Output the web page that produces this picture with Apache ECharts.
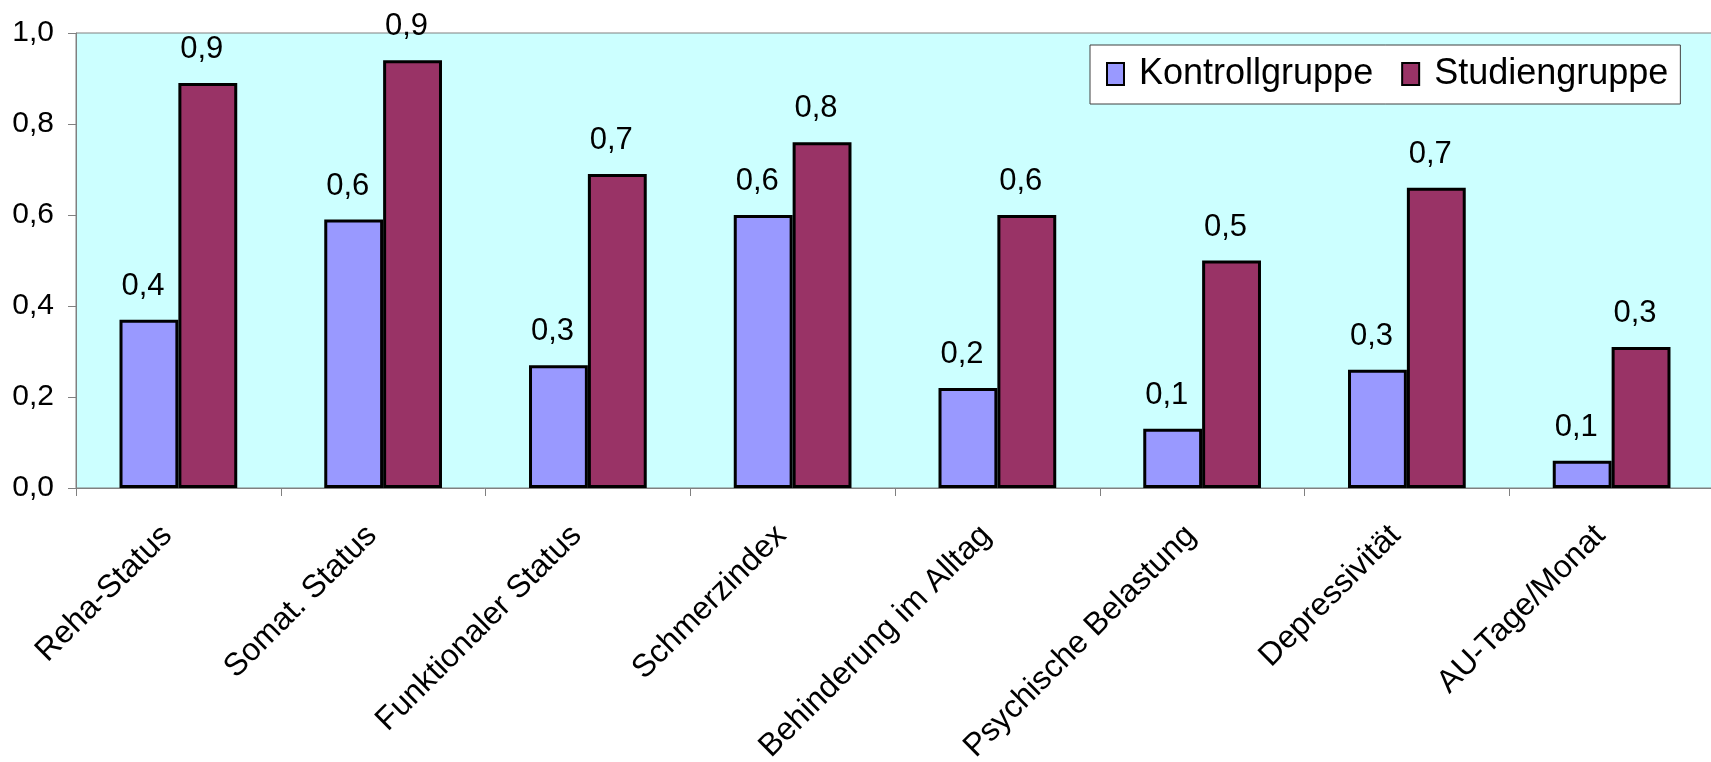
<!DOCTYPE html>
<html>
<head>
<meta charset="utf-8">
<title>Kontrollgruppe vs. Studiengruppe</title>
<script src="https://cdn.jsdelivr.net/npm/echarts@6/dist/echarts.min.js"></script>
<style>
  html, body { margin: 0; padding: 0; background: #ffffff; }
  #chart { width: 1711px; height: 762px; }
</style>
</head>
<body>
<div id="chart"></div>
<script>
// Kategorien der Auswertung
const categories = [
  'Reha-Status',
  'Somat. Status',
  'Funktionaler Status',
  'Schmerzindex',
  'Behinderung im Alltag',
  'Psychische Belastung',
  'Depressivität',
  'AU-Tage/Monat'
];

// Werte je Gruppe
const kontrollgruppe = [0.37, 0.59, 0.27, 0.60, 0.22, 0.13, 0.26, 0.06];
const studiengruppe  = [0.89, 0.94, 0.69, 0.76, 0.60, 0.50, 0.66, 0.31];

// Y-Achse
const yMin = 0;
const yMax = 1;
const yStep = 0.2;

const FONT = '"Liberation Sans", Arial, sans-serif';
const komma = (v, digits) => Number(v).toFixed(digits).replace('.', ',');

const chart = echarts.init(document.getElementById('chart'), null, { renderer: 'canvas' });

const barLabel = {
  show: true,
  position: 'top',
  distance: 18,
  offset: [-6, 0],
  color: '#000000',
  fontFamily: FONT,
  fontSize: 31,
  formatter: p => komma(p.value, 1)
};

chart.setOption({
  animation: false,
  backgroundColor: '#ffffff',
  textStyle: { fontFamily: FONT, color: '#000000' },
  grid: {
    left: 76,
    top: 33,
    width: 1638,
    height: 455,
    containLabel: false,
    outerBoundsMode: 'none',
    show: true,
    backgroundColor: '#CCFFFF',
    borderColor: '#808080',
    borderWidth: 1
  },
  legend: {
    left: 1090,
    top: 45,
    orient: 'horizontal',
    icon: 'rect',
    itemWidth: 17,
    itemHeight: 22,
    itemGap: 28,
    padding: [11, 12, 12, 16],
    backgroundColor: '#ffffff',
    borderColor: '#404040',
    borderWidth: 1,
    textStyle: {
      fontFamily: FONT,
      fontSize: 36,
      color: '#000000',
      padding: [0, 0, 0, 10]
    },
    itemStyle: { borderColor: '#000000', borderWidth: 2 },
    data: ['Kontrollgruppe', 'Studiengruppe']
  },
  xAxis: {
    type: 'category',
    data: categories,
    boundaryGap: true,
    axisLine: { show: true, lineStyle: { color: '#808080', width: 1 } },
    axisTick: { show: true, length: 8, alignWithLabel: false, lineStyle: { color: '#808080' } },
    axisLabel: {
      rotate: 45,
      margin: 54,
      interval: 0,
      align: 'right',
      verticalAlign: 'bottom',
      fontFamily: FONT,
      fontSize: 32,
      color: '#000000'
    },
    splitLine: { show: false }
  },
  yAxis: {
    type: 'value',
    min: yMin,
    max: yMax,
    interval: yStep,
    axisLine: { show: true, lineStyle: { color: '#808080', width: 1 } },
    axisTick: { show: true, length: 8, lineStyle: { color: '#808080' } },
    axisLabel: {
      margin: 22,
      fontFamily: FONT,
      fontSize: 30,
      color: '#000000',
      formatter: v => komma(v, 1)
    },
    splitLine: { show: false }
  },
  series: [
    {
      name: 'Kontrollgruppe',
      type: 'bar',
      data: kontrollgruppe,
      barGap: '0%',
      barCategoryGap: '42.5%',
      itemStyle: { color: '#9999FF', borderColor: '#000000', borderWidth: 3 },
      label: barLabel
    },
    {
      name: 'Studiengruppe',
      type: 'bar',
      data: studiengruppe,
      barGap: '0%',
      barCategoryGap: '42.5%',
      itemStyle: { color: '#993366', borderColor: '#000000', borderWidth: 3 },
      label: barLabel
    }
  ]
});
</script>
</body>
</html>
